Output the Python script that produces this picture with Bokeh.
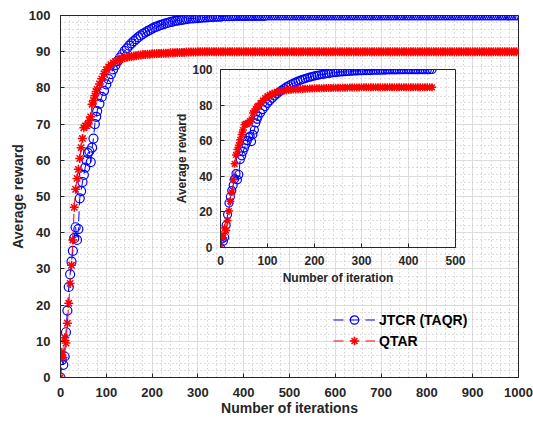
from bokeh.plotting import figure
from bokeh.models import (Range1d, SingleIntervalTicker, Legend, LegendItem,
                          ColumnDataSource)
from bokeh.layouts import column
from bokeh.embed import file_html
from bokeh.resources import INLINE

# ---------------- data ----------------
early_iter = list(range(0, 79, 3))      # iterations 0..78
late_iter = list(range(80, 1001, 5))    # iterations 80..1000

jtcr_early = [0.0, 4.8, 3.5, 5.8, 12.5, 18.5, 25.0, 28.5, 32.0, 35.0,
              38.5, 41.5, 38.0, 41.0, 49.5, 51.5, 54.0, 56.0, 58.0, 60.0,
              62.0, 62.5, 59.5, 63.5, 66.0, 70.0, 72.0]
jtcr_late = [73.6, 75.6, 77.5, 79.2, 81.0, 82.4, 83.8, 85.1, 86.3, 87.4,
             88.4, 89.3, 90.2, 90.9, 91.7, 92.3, 92.9, 93.5, 94.0, 94.5,
             94.9, 95.3, 95.7, 96.0, 96.4, 96.7, 96.9, 97.2, 97.4, 97.6,
             97.8, 98.0, 98.2, 98.3, 98.5, 98.6, 98.7, 98.8, 98.9, 99.0,
             99.1, 99.2, 99.2, 99.3, 99.3, 99.4, 99.4, 99.5, 99.5, 99.6,
             99.6, 99.6, 99.7, 99.7, 99.7, 99.8, 99.8, 99.8, 99.8, 99.8,
             99.9, 99.9, 99.9, 99.9, 99.9, 99.9, 99.9, 99.9, 99.9, 99.9,
             99.9, 99.9, 99.9, 99.9, 100.0, 100.0, 100.0, 100.0, 100.0, 100.0,
             100.0, 100.0, 100.0, 100.0, 100.0, 100.0, 100.0, 100.0, 100.0, 100.0,
             100.0, 100.0, 100.0, 100.0, 100.0, 100.0, 100.0, 100.0, 100.0, 100.0,
             100.0, 100.0, 100.0, 100.0, 100.0, 100.0, 100.0, 100.0, 100.0, 100.0,
             100.0, 100.0, 100.0, 100.0, 100.0, 100.0, 100.0, 100.0, 100.0, 100.0,
             100.0, 100.0, 100.0, 100.0, 100.0, 100.0, 100.0, 100.0, 100.0, 100.0,
             100.0, 100.0, 100.0, 100.0, 100.0, 100.0, 100.0, 100.0, 100.0, 100.0,
             100.0, 100.0, 100.0, 100.0, 100.0, 100.0, 100.0, 100.0, 100.0, 100.0,
             100.0, 100.0, 100.0, 100.0, 100.0, 100.0, 100.0, 100.0, 100.0, 100.0,
             100.0, 100.0, 100.0, 100.0, 100.0, 100.0, 100.0, 100.0, 100.0, 100.0,
             100.0, 100.0, 100.0, 100.0, 100.0, 100.0, 100.0, 100.0, 100.0, 100.0,
             100.0, 100.0, 100.0, 100.0, 100.0]

qtar_early = [0.0, 7.0, 5.5, 11.0, 9.5, 15.0, 20.5, 26.0, 31.0, 38.0,
              47.0, 52.0, 55.0, 57.5, 60.5, 63.5, 66.0, 69.0, 69.5, 69.5,
              70.0, 71.0, 72.0, 75.5, 76.5, 77.8, 79.0]
qtar_late = [79.6, 81.1, 82.5, 83.9, 85.0, 85.8, 86.4, 86.9, 87.3, 87.6,
             87.9, 88.1, 88.3, 88.5, 88.6, 88.7, 88.8, 88.9, 89.0, 89.1,
             89.2, 89.2, 89.3, 89.3, 89.4, 89.4, 89.5, 89.5, 89.5, 89.6,
             89.6, 89.6, 89.7, 89.7, 89.7, 89.8, 89.8, 89.8, 89.8, 89.9,
             89.9, 89.9, 89.9, 89.9, 90.0, 90.0, 90.0, 90.0, 90.0, 90.0,
             90.0, 90.0, 90.0, 90.0, 90.0, 90.0, 90.0, 90.0, 90.0, 90.0,
             90.0, 90.0, 90.0, 90.0, 90.0, 90.0, 90.0, 90.0, 90.0, 90.0,
             90.0, 90.0, 90.0, 90.0, 90.0, 90.0, 90.0, 90.0, 90.0, 90.0,
             90.0, 90.0, 90.0, 90.0, 90.0, 90.0, 90.0, 90.0, 90.0, 90.0,
             90.0, 90.0, 90.0, 90.0, 90.0, 90.0, 90.0, 90.0, 90.0, 90.0,
             90.0, 90.0, 90.0, 90.0, 90.0, 90.0, 90.0, 90.0, 90.0, 90.0,
             90.0, 90.0, 90.0, 90.0, 90.0, 90.0, 90.0, 90.0, 90.0, 90.0,
             90.0, 90.0, 90.0, 90.0, 90.0, 90.0, 90.0, 90.0, 90.0, 90.0,
             90.0, 90.0, 90.0, 90.0, 90.0, 90.0, 90.0, 90.0, 90.0, 90.0,
             90.0, 90.0, 90.0, 90.0, 90.0, 90.0, 90.0, 90.0, 90.0, 90.0,
             90.0, 90.0, 90.0, 90.0, 90.0, 90.0, 90.0, 90.0, 90.0, 90.0,
             90.0, 90.0, 90.0, 90.0, 90.0, 90.0, 90.0, 90.0, 90.0, 90.0,
             90.0, 90.0, 90.0, 90.0, 90.0, 90.0, 90.0, 90.0, 90.0, 90.0,
             90.0, 90.0, 90.0, 90.0, 90.0]

series_names = ["JTCR (TAQR)", "QTAR"]
inset_max_iter = 450

iters = early_iter + late_iter
jtcr = jtcr_early + jtcr_late
qtar = qtar_early + qtar_late

FONT = "Liberation Sans"
AX = "#262626"
BLUE = "#0000ff"
RED = "#ff0000"

main_src = ColumnDataSource(dict(x=iters, jtcr=jtcr, qtar=qtar))
n_in = sum(1 for v in iters if v <= inset_max_iter)
inset_src = ColumnDataSource(dict(x=iters[:n_in], jtcr=jtcr[:n_in], qtar=qtar[:n_in]))


def style_axis(ax, size):
    ax.axis_line_color = AX
    ax.major_tick_line_color = AX
    ax.major_tick_in = 4
    ax.major_tick_out = 0
    ax.minor_tick_line_color = None
    ax.major_label_text_font = FONT
    ax.major_label_text_font_style = "bold"
    ax.major_label_text_color = AX
    ax.major_label_text_font_size = size
    ax.axis_label_text_font = FONT
    ax.axis_label_text_font_style = "bold"
    ax.axis_label_text_color = AX


def style_grid(fig):
    for g in (fig.xgrid[0], fig.ygrid[0]):
        g.grid_line_color = "#dcdcdc"
        g.grid_line_width = 1
        g.minor_grid_line_color = "#bcbcbc"
        g.minor_grid_line_dash = "1 3"
        g.minor_grid_line_width = 1


# ---------------- main figure ----------------
p = figure(width=533, height=421, output_backend="svg", toolbar_location=None,
           x_range=Range1d(0, 1000), y_range=Range1d(0, 100),
           min_border_left=60, min_border_right=15, min_border_top=15, min_border_bottom=44,
           background_fill_color="white", border_fill_color="white")
p.outline_line_color = AX
p.xaxis.ticker = SingleIntervalTicker(interval=100, num_minor_ticks=5)
p.yaxis.ticker = SingleIntervalTicker(interval=10, num_minor_ticks=5)
style_axis(p.xaxis[0], "13px")
style_axis(p.yaxis[0], "13px")
p.xaxis.axis_label = "Number of iterations"
p.yaxis.axis_label = "Average reward"
p.xaxis.axis_label_text_font_size = "14px"
p.yaxis.axis_label_text_font_size = "14px"
p.xaxis.major_label_standoff = 6
p.yaxis.major_label_standoff = 6
p.xaxis.axis_label_standoff = 0
p.yaxis.axis_label_standoff = 0
style_grid(p)

bl = p.line("x", "jtcr", source=main_src, line_color=BLUE, line_dash="10 6", line_width=1)
bs = p.scatter("x", "jtcr", source=main_src, marker="circle", size=9, fill_color=None,
               line_color=BLUE, line_width=1.2)
rl = p.line("x", "qtar", source=main_src, line_color=RED, line_dash="10 6", line_width=1)
rs = p.scatter("x", "qtar", source=main_src, marker="asterisk", size=9,
               line_color=RED, line_width=1.5)

legend = Legend(items=[LegendItem(label=series_names[0], renderers=[bl, bs]),
                       LegendItem(label=series_names[1], renderers=[rl, rs])],
                location=(273, 26))
legend.background_fill_alpha = 0
legend.border_line_color = None
legend.label_text_font = FONT
legend.label_text_font_style = "bold"
legend.label_text_font_size = "14px"
legend.label_text_color = "#000000"
legend.glyph_width = 42
legend.glyph_height = 21
legend.label_height = 21
legend.label_standoff = 4
legend.spacing = 0
legend.padding = 0
legend.margin = 0
p.add_layout(legend, "center")

# ---------------- inset figure ----------------
# (the column aligns the left/right borders of its children, so the inset
#  uses the same borders as the main figure)
q = figure(width=310, height=223, output_backend="svg", toolbar_location=None,
           x_range=Range1d(0, 500), y_range=Range1d(0, 100),
           min_border_left=60, min_border_right=15, min_border_top=5, min_border_bottom=40,
           background_fill_color="white", border_fill_alpha=0,
           styles={"position": "absolute", "left": "160px", "top": "64px"})
q.outline_line_color = AX
q.xaxis.ticker = SingleIntervalTicker(interval=100, num_minor_ticks=5)
q.yaxis.ticker = SingleIntervalTicker(interval=20, num_minor_ticks=4)
style_axis(q.xaxis[0], "12px")
style_axis(q.yaxis[0], "12px")
q.xaxis.axis_label = "Number of iteration"
q.yaxis.axis_label = "Average reward"
q.xaxis.axis_label_text_font_size = "12px"
q.yaxis.axis_label_text_font_size = "12px"
q.xaxis.major_label_standoff = 4
q.yaxis.major_label_standoff = 4
q.xaxis.axis_label_standoff = 3
q.yaxis.axis_label_standoff = 0
style_grid(q)

q.line("x", "jtcr", source=inset_src, line_color=BLUE, line_dash="10 6", line_width=1)
q.scatter("x", "jtcr", source=inset_src, marker="circle", size=8, fill_color=None,
          line_color=BLUE, line_width=1.2)
q.line("x", "qtar", source=inset_src, line_color=RED, line_dash="10 6", line_width=1)
q.scatter("x", "qtar", source=inset_src, marker="asterisk", size=8,
          line_color=RED, line_width=1.5)

layout = column(p, q)
open("out.html", "w").write(file_html(layout, INLINE))
